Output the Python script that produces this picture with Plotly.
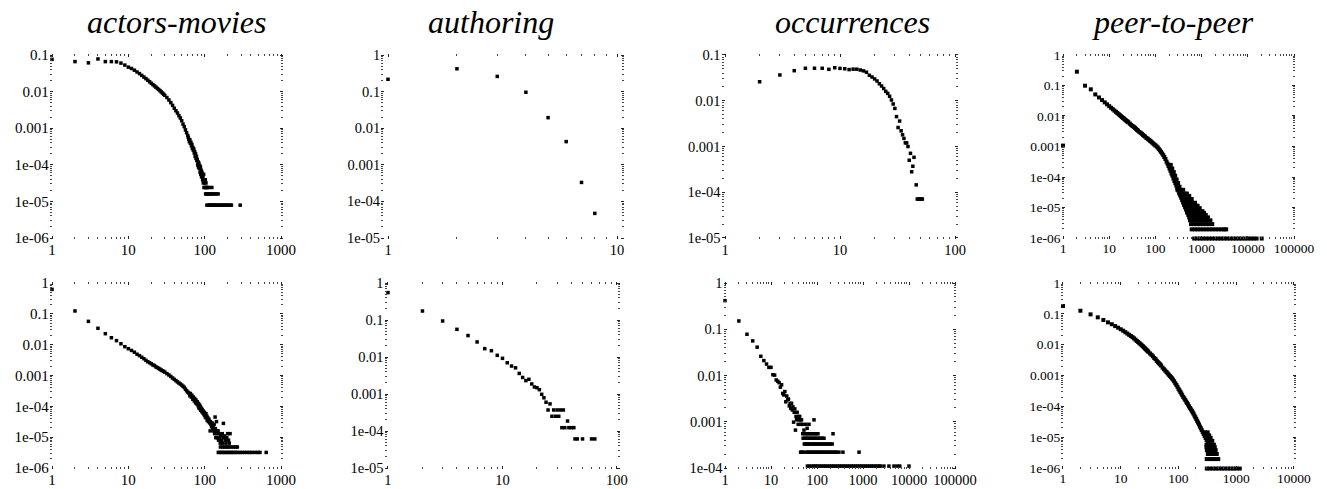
import math
import plotly.graph_objects as go

# ------------------------------------------------------------------
# DATA  (degree k, fraction of nodes with degree k)
# ------------------------------------------------------------------
titles = ["actors-movies", "authoring", "occurrences", "peer-to-peer"]

actors_top = [
    (1, 0.076), (2, 0.066), (3, 0.061), (4, 0.078), (5, 0.066), (6, 0.066), (7, 0.065), (8, 0.060),
    (9, 0.053), (10, 0.0466), (11, 0.0428), (12, 0.0385), (13, 0.0344), (14, 0.031), (15, 0.0277),
    (16, 0.0249), (17, 0.0226), (18, 0.0205), (19, 0.0185), (20, 0.0169), (21, 0.0155), (22, 0.0143),
    (23, 0.0132), (24, 0.0122), (25, 0.0114), (26, 0.0106), (27, 0.0098), (28, 0.0091), (29, 0.0085),
    (30, 0.0079), (32, 0.0069), (34, 0.0059), (36, 0.0050), (38, 0.0042), (40, 0.0035), (42, 0.0030),
    (44, 0.0026), (46, 0.0022), (48, 0.0019), (50, 0.0016), (52, 0.0013), (54, 0.0011), (56, 0.00090),
    (58, 0.00075), (60, 0.00063), (61, 5.6e-4), (62, 5.0e-4), (63, 4.3e-4), (64, 4.8e-4), (65, 3.9e-4),
    (66, 4.1e-4), (67, 3.3e-4), (68, 3.6e-4), (69, 2.8e-4), (70, 3.0e-4), (71, 2.5e-4), (72, 2.7e-4),
    (73, 2.1e-4), (74, 2.3e-4), (75, 1.7e-4), (76, 2.0e-4), (77, 1.5e-4), (78, 1.7e-4), (79, 1.3e-4),
    (80, 1.4e-4), (81, 1.0e-4), (82, 1.2e-4), (83, 8.7e-5), (84, 1.1e-4), (85, 7.9e-5), (86, 9.5e-5),
    (87, 6.3e-5), (88, 8.7e-5), (89, 5.5e-5), (90, 7.1e-5), (91, 4.7e-5), (92, 6.3e-5), (93, 5.5e-5),
    (94, 3.9e-5), (95, 4.7e-5), (96, 3.2e-5), (97, 5.5e-5), (98, 2.4e-5), (99, 3.9e-5), (100, 3.2e-5),
    (101, 2.4e-5), (102, 3.9e-5), (103, 1.6e-5), (104, 3.2e-5), (105, 2.4e-5), (106, 1.6e-5),
    (107, 7.9e-6), (108, 2.4e-5), (110, 1.6e-5), (112, 2.4e-5), (113, 7.9e-6), (115, 1.6e-5),
    (116, 7.9e-6), (118, 1.6e-5), (120, 7.9e-6), (122, 1.6e-5), (124, 2.4e-5), (125, 7.9e-6),
    (128, 1.6e-5), (130, 7.9e-6), (134, 1.6e-5), (135, 7.9e-6), (140, 7.9e-6), (142, 1.6e-5),
    (146, 7.9e-6), (150, 1.6e-5), (152, 7.9e-6), (158, 7.9e-6), (165, 7.9e-6), (172, 7.9e-6),
    (180, 7.9e-6), (188, 7.9e-6), (196, 7.9e-6), (205, 7.9e-6), (214, 7.9e-6), (224, 7.9e-6),
    (292, 7.9e-6),
]

actors_bottom = [
    (1, 0.62), (2, 0.124), (3, 0.057), (4, 0.034), (5, 0.0227), (6, 0.0168), (7, 0.0135), (8, 0.0107),
    (9, 0.0086), (10, 0.0074), (11, 0.0065), (12, 0.0057), (13, 0.0049), (14, 0.0044), (15, 0.0039),
    (16, 0.0035), (17, 0.0031), (18, 0.0028), (19, 0.0026), (20, 0.0024), (21, 0.0022), (22, 0.0021),
    (23, 0.0019), (24, 0.0018), (25, 0.0017), (26, 0.0016), (27, 0.0015), (28, 0.00143), (29, 0.00136),
    (30, 0.00129), (32, 0.00115), (34, 0.00104), (36, 0.00093), (38, 0.00083), (40, 0.00075),
    (42, 0.00068), (44, 0.00062), (46, 0.00057), (48, 0.00053), (50, 0.00049), (52, 0.00045),
    (54, 0.00041), (56, 0.00036), (58, 0.00032), (60, 0.00029), (62, 2.7e-4), (64, 2.2e-4),
    (65, 2.6e-4), (67, 2.0e-4), (68, 2.3e-4), (70, 1.7e-4), (71, 2.0e-4), (73, 1.5e-4), (74, 1.8e-4),
    (76, 1.3e-4), (77, 1.6e-4), (79, 1.2e-4), (80, 1.4e-4), (82, 1.05e-4), (83, 1.25e-4), (84, 8.9e-5),
    (86, 1.1e-4), (87, 8.3e-5), (88, 9.6e-5), (89, 7.4e-5), (91, 8.6e-5), (92, 6.7e-5), (93, 7.7e-5),
    (95, 6.1e-5), (96, 7.0e-5), (98, 5.4e-5), (99, 6.4e-5), (101, 5.1e-5), (102, 4.5e-5), (104, 5.8e-5),
    (105, 4.2e-5), (107, 4.8e-5), (108, 3.5e-5), (110, 4.2e-5), (112, 3.2e-5), (114, 3.8e-5),
    (116, 2.9e-5), (118, 1.6e-5), (119, 3.2e-5), (121, 2.6e-5), (123, 2.2e-5), (125, 2.9e-5),
    (127, 1.9e-5), (129, 2.2e-5), (131, 1.6e-5), (133, 2.6e-5), (135, 1.3e-5), (137, 4.5e-5),
    (138, 1.9e-5), (140, 9.6e-6), (142, 1.6e-5), (143, 3.2e-5), (145, 1.3e-5), (148, 9.6e-6),
    (150, 1.6e-5), (152, 8.0e-6), (155, 1.3e-5), (158, 9.6e-6), (160, 6.4e-6), (163, 1.1e-5),
    (166, 8.0e-6), (170, 1.3e-5), (172, 6.4e-6), (176, 2.8e-5), (178, 9.6e-6), (182, 1.1e-5),
    (186, 8.0e-6), (190, 6.4e-6), (195, 9.6e-6), (200, 1.3e-5), (205, 8.0e-6), (210, 6.4e-6),
    (215, 1.3e-5),
    (161, 4.8e-6), (171, 4.8e-6), (181, 4.8e-6), (191, 4.8e-6), (201, 4.8e-6), (212, 4.8e-6),
    (225, 4.8e-6), (240, 4.8e-6), (255, 4.8e-6), (268, 4.8e-6),
    (151, 3.2e-6), (157, 3.2e-6), (167, 3.2e-6), (175, 3.2e-6), (185, 3.2e-6), (196, 3.2e-6),
    (206, 3.2e-6), (216, 3.2e-6), (228, 3.2e-6), (241, 3.2e-6), (256, 3.2e-6), (270, 3.2e-6),
    (290, 3.2e-6), (310, 3.2e-6), (335, 3.2e-6), (360, 3.2e-6), (390, 3.2e-6), (420, 3.2e-6),
    (460, 3.2e-6), (500, 3.2e-6), (530, 3.2e-6), (640, 3.2e-6),
]

authoring_top = [
    (1, 0.217), (2, 0.42), (3, 0.26), (4, 0.096), (5, 0.0194), (6, 0.0043), (7, 3.3e-4), (8, 4.7e-5),
]

authoring_bottom = [
    (1, 0.55), (2, 0.175), (3, 0.094), (4, 0.056), (5, 0.038), (6, 0.0255), (7, 0.0168), (8, 0.0148),
    (9, 0.0111), (10, 0.0092), (11, 0.0070), (12, 0.0057), (13, 0.0051), (14, 0.0036), (15, 0.0028),
    (16, 0.0023), (17, 0.0025), (18, 0.00187), (19, 0.00155), (20, 0.00148), (21, 0.00131),
    (22, 9.8e-4), (23, 7.9e-4), (24, 6.0e-4), (25, 3.7e-4), (26, 5.4e-4), (27, 2.5e-4), (28, 3.7e-4),
    (29, 2.5e-4), (30, 3.7e-4), (31, 2.5e-4), (32, 3.7e-4), (33, 1.23e-4), (34, 3.7e-4), (35, 1.23e-4),
    (37, 1.86e-4), (38, 1.23e-4), (40, 1.23e-4), (42, 1.23e-4), (43, 6.1e-5), (45, 6.1e-5),
    (50, 6.1e-5), (60, 6.1e-5), (64, 6.1e-5),
]

occurrences_top = [
    (2, 0.026), (3, 0.0366), (4, 0.0454), (5, 0.0513), (6, 0.0513), (7, 0.0513), (8, 0.0486),
    (9, 0.0527), (10, 0.051), (11, 0.050), (12, 0.048), (13, 0.049), (14, 0.049), (15, 0.047),
    (16, 0.045), (17, 0.042), (18, 0.036), (19, 0.033), (20, 0.030), (21, 0.027), (22, 0.0235),
    (23, 0.021), (24, 0.0185), (25, 0.016), (26, 0.0145), (27, 0.0125), (28, 0.0104), (29, 0.0085),
    (30, 0.0068), (31, 0.0045), (32, 0.0026), (33, 0.0036), (34, 0.0022), (35, 0.0018), (36, 0.0015),
    (37, 0.0012), (38, 0.0012), (39, 0.0010), (40, 5.0e-4), (41, 7.1e-4), (42, 2.8e-4), (43, 3.7e-4),
    (44, 5.8e-4), (46, 1.45e-4), (47, 7.1e-5), (48, 7.1e-5), (49, 7.1e-5), (50, 7.1e-5), (51, 7.1e-5),
    (52, 7.1e-5),
]

occurrences_bottom = [
    (1, 0.415), (2, 0.151), (3, 0.078), (4, 0.056), (5, 0.041), (6, 0.026), (7, 0.021), (8, 0.0177),
    (9, 0.015), (10, 0.015), (11, 0.0104), (12, 0.0102), (13, 0.008), (14, 0.0075), (15, 0.007),
    (16, 0.0056), (17, 0.0063), (18, 0.0041), (19, 0.0038), (20, 0.0045), (21, 0.0027), (22, 0.0036),
    (23, 0.0030), (24, 0.0031), (25, 0.0022), (26, 0.0025), (27, 0.00195), (28, 0.0025), (29, 0.0018),
    (30, 0.0021), (31, 9.8e-4), (32, 0.0016), (33, 0.0019), (34, 6.6e-4), (35, 0.0013), (36, 0.0011),
    (37, 0.0016), (38, 0.0012), (39, 8.8e-4), (40, 0.0013), (41, 0.0011), (42, 0.0013), (43, 0.0011),
    (45, 8.8e-4), (46, 0.0011), (48, 8.8e-4), (52, 6.6e-4), (57, 8.8e-4), (61, 7.2e-4), (67, 8.8e-4),
    (86, 0.0011),
    (49, 5.5e-4), (55, 5.5e-4), (60, 5.5e-4), (66, 5.5e-4), (72, 5.5e-4), (79, 5.5e-4), (88, 5.5e-4),
    (95, 5.5e-4), (105, 5.5e-4), (223, 5.5e-4),
    (50, 4.4e-4), (54, 4.4e-4), (58, 4.4e-4), (63, 4.4e-4), (68, 4.4e-4), (74, 4.4e-4), (80, 4.4e-4),
    (87, 4.4e-4), (94, 4.4e-4), (102, 4.4e-4), (110, 4.4e-4), (120, 4.4e-4), (130, 4.4e-4),
    (142, 4.4e-4),
    (53, 3.3e-4), (56, 3.3e-4), (62, 3.3e-4), (65, 3.3e-4), (70, 3.3e-4), (76, 3.3e-4), (83, 3.3e-4),
    (90, 3.3e-4), (97, 3.3e-4), (106, 3.3e-4), (115, 3.3e-4), (126, 3.3e-4), (138, 3.3e-4),
    (150, 3.3e-4), (165, 3.3e-4), (180, 3.3e-4), (197, 3.3e-4), (214, 3.3e-4),
    (44, 2.2e-4), (47, 2.2e-4), (51, 2.2e-4), (59, 2.2e-4), (64, 2.2e-4), (69, 2.2e-4), (75, 2.2e-4),
    (81, 2.2e-4), (89, 2.2e-4), (96, 2.2e-4), (104, 2.2e-4), (113, 2.2e-4), (123, 2.2e-4),
    (134, 2.2e-4), (146, 2.2e-4), (159, 2.2e-4), (173, 2.2e-4), (189, 2.2e-4), (206, 2.2e-4),
    (225, 2.2e-4), (245, 2.2e-4), (267, 2.2e-4), (300, 2.2e-4), (366, 2.2e-4), (820, 2.2e-4),
    (62, 1.1e-4), (68, 1.1e-4), (77, 1.1e-4), (84, 1.1e-4), (92, 1.1e-4), (101, 1.1e-4), (112, 1.1e-4),
    (124, 1.1e-4), (137, 1.1e-4), (151, 1.1e-4), (167, 1.1e-4), (185, 1.1e-4), (204, 1.1e-4),
    (226, 1.1e-4), (249, 1.1e-4), (276, 1.1e-4), (305, 1.1e-4), (337, 1.1e-4), (372, 1.1e-4),
    (411, 1.1e-4), (455, 1.1e-4), (502, 1.1e-4), (555, 1.1e-4), (614, 1.1e-4), (678, 1.1e-4),
    (750, 1.1e-4), (828, 1.1e-4), (915, 1.1e-4), (1011, 1.1e-4), (1118, 1.1e-4), (1235, 1.1e-4),
    (1365, 1.1e-4), (1508, 1.1e-4), (1667, 1.1e-4), (1842, 1.1e-4), (2036, 1.1e-4), (2250, 1.1e-4),
    (2400, 1.1e-4), (2850, 1.1e-4), (3660, 1.1e-4), (4700, 1.1e-4), (5500, 1.1e-4), (6300, 1.1e-4),
    (10000, 1.1e-4),
]

p2p_top = [
    (1, 0.00107), (2, 0.284), (3, 0.0986), (4, 0.075), (5, 0.051), (6, 0.0405), (7, 0.0333),
    (8, 0.0280), (9, 0.0241), (10, 0.0210), (11, 0.0186), (12, 0.0166), (13, 0.0150), (14, 0.0137),
    (15, 0.0125), (16, 0.0115), (17, 0.0106), (18, 0.0099), (19, 0.0092), (20, 0.0086), (21, 0.0081),
    (22, 0.0076), (23, 0.0072), (24, 0.0068), (25, 0.0065), (26, 0.0062), (28, 0.0056), (30, 0.0051),
    (32, 0.0047), (34, 0.0044), (36, 0.0041), (38, 0.0038), (40, 0.0035), (42, 0.0033), (45, 0.0030),
    (48, 0.0028), (51, 0.0026), (54, 0.0024), (57, 0.00225), (60, 0.0021), (64, 0.0019), (68, 0.0018),
    (72, 0.00167), (76, 0.00155), (80, 0.00146), (85, 0.00135), (90, 0.00125), (95, 0.00116),
    (100, 0.00109), (106, 0.00101), (112, 9.3e-4), (118, 8.4e-4), (125, 7.5e-4), (132, 6.7e-4),
    (140, 5.9e-4), (148, 5.2e-4), (156, 4.5e-4), (165, 3.9e-4), (174, 3.2e-4), (183, 2.75e-4),
    (192, 2.3e-4), (202, 1.9e-4), (212, 1.6e-4), (223, 1.3e-4), (234, 1.1e-4), (246, 8.9e-5),
    (258, 7.4e-5), (271, 6.2e-5), (284, 5.2e-5), (298, 4.4e-5), (313, 3.6e-5), (328, 3.0e-5),
    (344, 2.5e-5), (361, 2.1e-5), (379, 1.74e-5), (398, 1.45e-5), (418, 1.2e-5), (439, 1.02e-5),
    (461, 8.5e-6), (484, 7.1e-6),
    (215, 2.5e-4), (232, 1.9e-4), (250, 1.45e-4), (268, 1.1e-4), (288, 8.3e-5), (310, 6.3e-5),
    (333, 4.8e-5), (358, 3.7e-5), (385, 2.7e-5),
    (300, 3.8e-5), (350, 3.8e-5), (400, 3.8e-5),
    (335, 2.85e-5), (390, 2.85e-5), (450, 2.85e-5), (480, 2.85e-5),
    (405, 2.4e-5), (470, 2.4e-5), (540, 2.4e-5),
    (430, 1.9e-5), (500, 1.9e-5), (580, 1.9e-5), (610, 1.9e-5),
    (465, 1.43e-5), (540, 1.43e-5), (625, 1.43e-5), (720, 1.43e-5),
    (495, 1.14e-5), (575, 1.14e-5), (665, 1.14e-5), (760, 1.14e-5), (820, 1.14e-5),
    (515, 9.5e-6), (600, 9.5e-6), (695, 9.5e-6), (805, 9.5e-6), (910, 9.5e-6),
    (550, 7.6e-6), (640, 7.6e-6), (740, 7.6e-6), (860, 7.6e-6), (1040, 7.6e-6),
    (495, 6.65e-6), (575, 6.65e-6), (665, 6.65e-6), (770, 6.65e-6), (895, 6.65e-6), (1030, 6.65e-6),
    (1130, 6.65e-6),
    (515, 5.7e-6), (600, 5.7e-6), (695, 5.7e-6), (805, 5.7e-6), (935, 5.7e-6), (1080, 5.7e-6),
    (1230, 5.7e-6),
    (540, 4.75e-6), (625, 4.75e-6), (725, 4.75e-6), (840, 4.75e-6), (975, 4.75e-6), (1130, 4.75e-6),
    (1370, 4.75e-6),
    (560, 3.8e-6), (650, 3.8e-6), (750, 3.8e-6), (870, 3.8e-6), (1010, 3.8e-6), (1170, 3.8e-6),
    (1350, 3.8e-6), (1550, 3.8e-6),
    (590, 2.85e-6), (680, 2.85e-6), (790, 2.85e-6), (920, 2.85e-6), (1060, 2.85e-6), (1230, 2.85e-6),
    (1430, 2.85e-6), (1700, 2.85e-6),
    (610, 1.92e-6), (710, 1.92e-6), (820, 1.92e-6), (950, 1.92e-6), (1100, 1.92e-6), (1280, 1.92e-6),
    (1480, 1.92e-6), (1720, 1.92e-6), (2000, 1.92e-6), (2320, 1.92e-6), (2700, 1.92e-6),
    (3100, 1.92e-6), (3400, 1.92e-6),
    (690, 9.6e-7), (800, 9.6e-7), (930, 9.6e-7), (1080, 9.6e-7), (1250, 9.6e-7), (1450, 9.6e-7),
    (1680, 9.6e-7), (1950, 9.6e-7), (2260, 9.6e-7), (2620, 9.6e-7), (3040, 9.6e-7), (3530, 9.6e-7),
    (4100, 9.6e-7), (4750, 9.6e-7), (5500, 9.6e-7), (6400, 9.6e-7), (7400, 9.6e-7), (8600, 9.6e-7),
    (10000, 9.6e-7), (11600, 9.6e-7), (13400, 9.6e-7), (15500, 9.6e-7), (20000, 9.6e-7),
]

p2p_bottom = [
    (1, 0.18), (2, 0.126), (3, 0.096), (4, 0.077), (5, 0.063), (6, 0.053), (7, 0.046), (8, 0.040),
    (9, 0.0355), (10, 0.0316), (11, 0.0284), (12, 0.0254), (13, 0.0229), (14, 0.0208), (15, 0.0190),
    (16, 0.0175), (17, 0.0160), (18, 0.0145), (19, 0.0132), (20, 0.0122), (21, 0.0112), (22, 0.0104),
    (23, 0.0096), (24, 0.0090), (25, 0.0083), (26, 0.0077), (27, 0.0072), (28, 0.0067), (29, 0.0063),
    (30, 0.0059), (32, 0.0052), (34, 0.0047), (36, 0.0042), (38, 0.0037), (40, 0.0034), (42, 0.0030),
    (44, 0.0027), (46, 0.0025), (48, 0.0023), (50, 0.0021), (53, 0.0018), (56, 0.0016), (59, 0.00144),
    (62, 0.0013), (65, 0.00117), (68, 0.00106), (71, 9.6e-4), (74, 8.8e-4), (77, 8.1e-4), (80, 7.4e-4),
    (84, 6.5e-4), (88, 5.6e-4), (92, 4.9e-4), (96, 4.3e-4), (100, 3.7e-4), (104, 3.3e-4), (108, 2.9e-4),
    (112, 2.6e-4), (116, 2.3e-4), (121, 2.0e-4), (126, 1.8e-4), (131, 1.6e-4), (136, 1.42e-4),
    (141, 1.28e-4), (146, 1.15e-4), (152, 1.0e-4), (158, 8.9e-5), (164, 8.0e-5), (170, 7.2e-5),
    (176, 6.4e-5), (182, 5.8e-5), (189, 5.0e-5), (196, 4.4e-5), (203, 3.9e-5), (210, 3.4e-5),
    (218, 3.0e-5), (226, 2.6e-5), (235, 2.2e-5), (244, 1.94e-5), (253, 1.69e-5), (263, 1.46e-5),
    (273, 1.27e-5), (284, 1.09e-5), (295, 9.4e-6), (307, 8.1e-6), (320, 7.0e-6), (333, 6.0e-6),
    (290, 1.43e-5), (320, 1.43e-5), (310, 1.14e-5), (340, 1.14e-5), (325, 9.5e-6), (360, 9.5e-6),
    (340, 7.6e-6), (385, 7.6e-6), (305, 5.7e-6), (375, 5.7e-6), (410, 5.7e-6),
    (305, 4.75e-6), (345, 4.75e-6), (385, 4.75e-6), (425, 4.75e-6),
    (310, 3.8e-6), (350, 3.8e-6), (395, 3.8e-6), (440, 3.8e-6),
    (322, 2.85e-6), (360, 2.85e-6), (405, 2.85e-6), (460, 2.85e-6),
    (308, 1.95e-6), (346, 1.95e-6), (391, 1.95e-6), (435, 1.95e-6), (488, 1.95e-6),
    (309, 9.6e-7), (345, 9.6e-7), (390, 9.6e-7), (441, 9.6e-7), (495, 9.6e-7), (560, 9.6e-7),
    (630, 9.6e-7), (710, 9.6e-7), (800, 9.6e-7), (900, 9.6e-7), (1010, 9.6e-7), (1150, 9.6e-7),
]

# axis ranges (data units) and tick labels
x_ranges_top = [(1, 1000), (1, 10), (1, 100), (1, 100000)]
y_ranges_top = [(1e-6, 0.1), (1e-5, 1), (1e-5, 0.1), (1e-6, 1)]
x_ranges_bottom = [(1, 1000), (1, 100), (1, 100000), (1, 10000)]
y_ranges_bottom = [(1e-6, 1), (1e-5, 1), (1e-4, 1), (1e-6, 1)]

x_tick_values = [1, 10, 100, 1000, 10000, 100000]
x_tick_labels = ["1", "10", "100", "1000", "10000", "100000"]
y_tick_values = [1, 0.1, 0.01, 0.001, 1e-4, 1e-5, 1e-6]
y_tick_labels = ["1", "0.1", "0.01", "0.001", "1e-04", "1e-05", "1e-06"]

# ------------------------------------------------------------------
# LAYOUT
# ------------------------------------------------------------------
W, H = 1327, 489
col_px = [(52, 281), (388, 617), (725, 955), (1063, 1294)]
row_px = [(55, 238), (283, 468)]
title_px = [177, 491, 852, 1173]
label_size = [15, 14.5, 14.5, 13.5]
PAD = 0.03  # decades of padding so edge points are not hidden
FONT = "Liberation Serif, Times New Roman, serif"

panels = [
    (actors_top, 0, 0), (authoring_top, 1, 0), (occurrences_top, 2, 0), (p2p_top, 3, 0),
    (actors_bottom, 0, 1), (authoring_bottom, 1, 1), (occurrences_bottom, 2, 1), (p2p_bottom, 3, 1),
]
dense = {3, 7}

fig = go.Figure()
layout = dict(
    width=W, height=H, margin=dict(l=0, r=0, t=0, b=0, autoexpand=False),
    paper_bgcolor="white", plot_bgcolor="white", showlegend=False,
)

for i, (series, c, r) in enumerate(panels, start=1):
    xr = (x_ranges_top if r == 0 else x_ranges_bottom)[c]
    yr = (y_ranges_top if r == 0 else y_ranges_bottom)[c]
    x0, x1 = col_px[c]
    y0, y1 = row_px[r]
    lx = [math.log10(xr[0]), math.log10(xr[1])]
    ly = [math.log10(yr[0]), math.log10(yr[1])]
    ppx = (x1 - x0) / (lx[1] - lx[0])
    ppy = (y1 - y0) / (ly[1] - ly[0])
    xs = [p[0] for p in series]
    ys = [p[1] for p in series]
    fig.add_trace(go.Scatter(
        x=xs, y=ys, mode="markers", cliponaxis=False,
        marker=dict(symbol="square", size=4 if (i - 1) in dense else 3.5, color="black",
                    line=dict(width=0)),
        xaxis=f"x{i}", yaxis=f"y{i}", hoverinfo="skip",
    ))
    xt = [(v, t) for v, t in zip(x_tick_values, x_tick_labels) if xr[0] <= v <= xr[1]]
    yt = [(v, t) for v, t in zip(y_tick_values, y_tick_labels) if yr[0] <= v <= yr[1]]
    common = dict(
        type="log", showgrid=False, zeroline=False, showline=False, automargin=False,
        ticks="inside", ticklen=3, tickwidth=1, tickcolor="#222", mirror="ticks",
        tickangle=0,
        tickfont=dict(family=FONT, size=label_size[c], color="black"),
        minor=dict(ticks="inside", ticklen=2, tickwidth=1, tickcolor="#444",
                   dtick="D1", showgrid=False),
    )
    layout[f"xaxis{i}"] = dict(
        common, range=[lx[0] - PAD, lx[1] + PAD],
        domain=[(x0 - PAD * ppx) / W, (x1 + PAD * ppx) / W], anchor=f"y{i}",
        tickmode="array", tickvals=[v for v, _ in xt], ticktext=[t for _, t in xt],
    )
    layout[f"yaxis{i}"] = dict(
        common, range=[ly[0] - PAD, ly[1] + PAD],
        domain=[1 - (y1 + PAD * ppy) / H, 1 - (y0 - PAD * ppy) / H], anchor=f"x{i}",
        tickmode="array", tickvals=[v for v, _ in yt], ticktext=[t for _, t in yt],
    )

layout["annotations"] = [
    dict(text=f"<i>{t}</i>", x=px / W, y=1 - 22 / H, xref="paper", yref="paper",
         xanchor="center", yanchor="middle", showarrow=False,
         font=dict(family=FONT, size=32, color="black"))
    for t, px in zip(titles, title_px)
]
fig.update_layout(**layout)
fig.write_html(
    "out.html",
    config={"responsive": False, "displayModeBar": False},
    post_script="document.body.style.margin='0';document.body.style.overflow='hidden';",
)
